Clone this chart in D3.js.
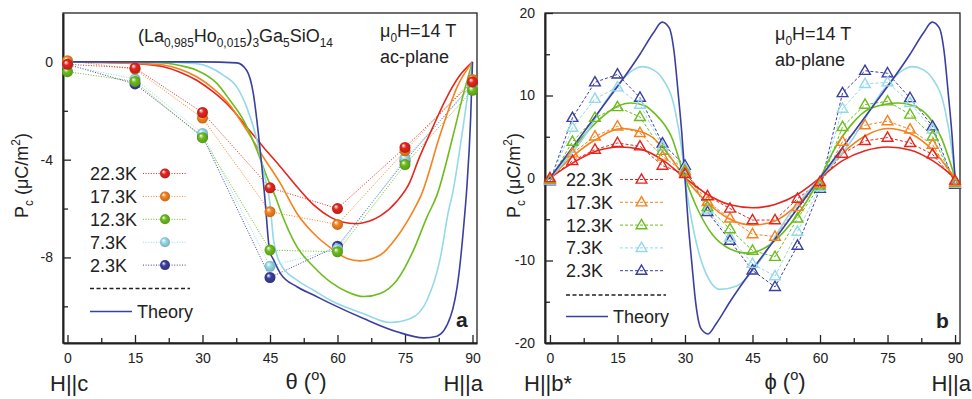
<!DOCTYPE html>
<html>
<head>
<meta charset="utf-8">
<script src="https://cdn.jsdelivr.net/npm/d3@7"></script>
<style>
  body { margin: 0; background: #fff; }
  svg { font-family: "Liberation Sans", Arial, sans-serif; }
</style>
</head>
<body>
<svg id="chart" width="972" height="399"></svg>
<script>
const temps = ["22.3K", "17.3K", "12.3K", "7.3K", "2.3K"];
const palette = ["#e3271f", "#f5821f", "#6cbd1c", "#94d9e8", "#3b3f9f"];

// ac-plane, measured points (theta in degrees, Pc in uC/m^2)
const thetaPts = [0, 15, 30, 45, 60, 75, 90];
const ac22 = [-0.1, -0.25, -2.07, -5.15, -6.0, -3.5, -0.82];
const ac17 = [0.05, -0.3, -2.3, -6.13, -6.65, -3.64, -0.72];
const ac12 = [-0.4, -0.8, -3.1, -7.7, -7.77, -4.2, -1.16];
const ac7 = [-0.15, -0.7, -2.93, -8.36, -7.65, -3.95, -1.0];
const ac2 = [-0.1, -0.9, -3.05, -8.82, -7.54, -4.05, -0.9];

// ac-plane theory curves [theta, Pc]
const acTh22 = [[0,0],[10,-0.03],[15,-0.07],[21.3,-0.2],[25,-0.42],[28.7,-0.75],[32.4,-1.23],[36.1,-1.84],[39.8,-2.66],[43.5,-3.48],[47.3,-4.29],[51,-5.11],[54.7,-5.85],[58.4,-6.35],[61,-6.55],[64.3,-6.62],[67,-6.52],[69.5,-6.3],[73.2,-5.7],[76,-4.95],[78,-4.0],[81,-2.75],[84,-1.55],[87,-0.6],[90,0]];
const acTh17 = [[0,0],[10,-0.03],[15,-0.06],[21.3,-0.13],[25,-0.3],[28.7,-0.61],[32.4,-1.09],[36.1,-1.77],[39.8,-2.79],[43.5,-3.89],[47.3,-4.97],[51,-6.2],[54.7,-7.02],[58.4,-7.6],[62.1,-8.04],[65,-8.14],[69.5,-7.9],[73.2,-7.16],[76.9,-6.07],[78.6,-5.45],[82.9,-2.93],[86.6,-1.02],[90,0]];
const acTh12 = [[0,0],[15,-0.01],[21.3,-0.04],[25,-0.15],[28.7,-0.34],[33.2,-0.88],[36.1,-1.57],[39.1,-2.38],[42.1,-3.61],[44.3,-4.7],[46.5,-5.66],[47.3,-6.07],[51,-7.57],[54.7,-8.38],[58.4,-9.0],[62.1,-9.4],[65.8,-9.6],[69.5,-9.47],[73.2,-8.93],[76.9,-7.7],[79.9,-6.34],[82.1,-5.45],[85.8,-2.93],[88,-1.3],[90,0]];
const acTh7 = [[0,0],[20,0],[28.7,-0.07],[34.6,-0.54],[37.6,-1.02],[39.8,-1.84],[42.1,-3.2],[43.5,-4.43],[45,-5.8],[45.8,-7.3],[47.3,-8.25],[51,-8.93],[54.7,-9.34],[58.4,-9.75],[65.8,-10.3],[71.7,-10.66],[76.2,-10.5],[79.9,-9.75],[82.9,-7.98],[84.7,-6.07],[85.5,-5.45],[87.7,-2.93],[90,0]];
const acTh2 = [[0,0],[30,0],[37.6,-0.04],[39.8,-0.34],[41.3,-1.3],[42.4,-2.9],[43.2,-4.3],[43.9,-5.66],[44.9,-7.7],[45.8,-8.1],[47.3,-8.65],[51,-9.2],[54.7,-9.54],[58.4,-9.88],[65.8,-10.5],[73.2,-11.04],[79.2,-11.29],[82.1,-11.22],[85.1,-10.43],[87,-8.65],[88.1,-6.6],[88.7,-5.25],[89.6,-2.25],[90,0]];

// ab-plane, measured points (phi in degrees)
const phiPts = [0, 5, 10, 15, 20, 25, 30, 35, 40, 45, 50, 55, 60, 65, 70, 75, 80, 85, 90];
const ab22 = [0, 2.07, 3.44, 4.25, 3.84, 1.5, 0.5, -2.2, -3.7, -5.1, -5.1, -2.5, -0.47, 2.95, 4.5, 4.9, 4.25, 2.87, -0.3];
const ab17 = [-0.1, 3.0, 5.05, 6.26, 5.46, 2.6, 0.7, -2.9, -4.9, -6.8, -7.1, -3.5, -0.7, 4.4, 6.4, 6.9, 5.9, 4.05, -0.5];
const ab12 = [-0.2, 4.4, 7.3, 8.6, 7.4, 3.3, 0.9, -3.5, -6.2, -8.8, -9.55, -4.9, -0.9, 6.2, 8.9, 9.3, 7.7, 5.05, -0.6];
const ab7 = [-0.3, 6.1, 9.6, 11.0, 8.9, 3.8, 1.2, -3.8, -7.2, -10.4, -11.9, -6.5, -1.1, 8.4, 11.4, 11.6, 9.1, 5.9, -0.7];
const ab2 = [-0.4, 7.3, 11.6, 12.56, 9.74, 4.2, 1.5, -4.1, -7.6, -11.2, -13.2, -8.2, -1.3, 10.3, 13.0, 12.7, 9.7, 6.27, -0.8];

// ab-plane theory curves [phi, Pc]
const abTh22 = [[0,0],[5,1.8],[10,3.2],[15.5,3.76],[20,3.5],[25,2.2],[30,0],[35,-2.0],[40,-3.25],[45,-3.6],[50,-3.2],[55,-2.0],[60,0],[65,2.1],[70,3.3],[75,3.76],[80,3.4],[85,2.1],[90,0]];
const abTh17 = [[0,0],[5,2.6],[10,4.6],[16,6.0],[22,5.2],[26,3.1],[30,0],[35,-3.0],[40,-5.0],[45,-5.7],[50,-5.2],[55,-3.2],[60,0],[65,3.0],[70,5.1],[75,6.0],[80,5.4],[85,3.4],[90,0]];
const abTh12 = [[0,0],[5,3.5],[10,6.6],[15,8.7],[18,9.1],[21,8.8],[23.3,7.8],[27,5.0],[30,0],[33,-4.0],[36,-6.8],[40,-8.6],[44,-9.1],[48,-8.4],[52,-6.5],[56,-3.7],[60,0],[63,3.3],[67,6.5],[71,8.4],[77.5,9.1],[81,8.7],[84,7.5],[87,4.8],[90,0]];
const abTh7 = [[0,0],[6.7,4.3],[14.1,10.6],[18.5,13.1],[20.5,13.5],[23,13.1],[24.8,12.2],[27.8,8.2],[29.3,3.4],[30,0],[31.9,-6.3],[34.1,-10.8],[37.8,-13.5],[41.5,-13.1],[45.9,-10.6],[53.3,-4.3],[60,0],[66.7,4.3],[74,10.6],[78.5,13.1],[80.5,13.5],[83,13.1],[84.8,12.2],[87.8,8.2],[89.3,3.4],[90,0]];
const abTh2 = [[0,0],[10,7.4],[20,15],[23,17.6],[24.9,18.9],[26.5,18.2],[27.6,15.2],[28.5,10.2],[29.3,5.4],[30,0],[30.7,-5.4],[31.5,-10.2],[32.4,-15.2],[33.5,-18.2],[35.1,-18.9],[37,-17.6],[40,-15],[50,-7.4],[60,0],[70,7.4],[80,15],[83,17.6],[84.9,18.9],[86.5,18.2],[87.6,15.2],[88.5,10.2],[89.3,5.4],[90,0]];

const acMeasured = [ac22, ac17, ac12, ac7, ac2];
const acTheory = [acTh22, acTh17, acTh12, acTh7, acTh2];
const abMeasured = [ab22, ab17, ab12, ab7, ab2];
const abTheory = [abTh22, abTh17, abTh12, abTh7, abTh2];

const svg = d3.select("#chart");
const ink = "#222";

// sphere gradients for the ac-plane markers
const defs = svg.append("defs");
palette.forEach((c, i) => {
  const gr = defs.append("radialGradient").attr("id", "ball" + i)
    .attr("cx", 0.5).attr("cy", 0.5).attr("r", 0.55).attr("fx", 0.33).attr("fy", 0.3);
  gr.append("stop").attr("offset", "0%").attr("stop-color", "#fff");
  gr.append("stop").attr("offset", "40%").attr("stop-color", c);
  gr.append("stop").attr("offset", "100%").attr("stop-color", d3.color(c).darker(0.7));
});

function rich(sel, parts, size) {
  let shift = 0;
  parts.forEach(([t, k]) => {
    const target = k === "sub" ? size * 0.3 : k === "sup" ? -size * 0.42 : 0;
    sel.append("tspan")
      .attr("dy", target - shift)
      .attr("font-size", k ? size * 0.66 : size)
      .text(t);
    shift = target;
  });
}

function drawFrame(g, x, y, xMinor, yMajor, yMinor) {
  const [xa, xb] = x.range();
  const [yb, ya] = y.range();
  const fmt = d => String(d);

  const bottom = g.append("g").attr("transform", `translate(0,${yb})`)
    .call(d3.axisBottom(x).tickValues([0, 15, 30, 45, 60, 75, 90]).tickSize(-8).tickSizeOuter(0).tickPadding(10).tickFormat(fmt));
  g.append("g").attr("transform", `translate(0,${yb})`)
    .call(d3.axisBottom(x).tickValues(xMinor).tickSize(-5).tickSizeOuter(0).tickFormat(""))
    .select(".domain").remove();
  const left = g.append("g").attr("transform", `translate(${xa},0)`)
    .call(d3.axisLeft(y).tickValues(yMajor).tickSize(-8).tickSizeOuter(0).tickPadding(10).tickFormat(fmt));
  g.append("g").attr("transform", `translate(${xa},0)`)
    .call(d3.axisLeft(y).tickValues(yMinor).tickSize(-5).tickSizeOuter(0).tickFormat(""))
    .select(".domain").remove();

  g.selectAll(".tick line").attr("stroke", ink).attr("stroke-width", 1.3);
  g.selectAll(".domain").attr("stroke", ink).attr("stroke-width", 2);
  g.selectAll(".tick text").attr("fill", ink).attr("font-size", 14);
  [bottom, left].forEach(a => a.attr("font-family", null));

  g.append("rect").attr("x", xa).attr("y", ya).attr("width", xb - xa).attr("height", yb - ya)
    .attr("fill", "none").attr("stroke", ink).attr("stroke-width", 1.3);
}

function drawSeries(g, x, y, angles, measured, theory, marker, dash) {
  const dataLine = d3.line().x((d, j) => x(angles[j])).y(d => y(d));
  const theoryLine = d3.line().x(d => x(d[0])).y(d => y(d[1])).curve(d3.curveMonotoneX);
  for (let i = temps.length - 1; i >= 0; i--) {
    g.append("path").attr("d", dataLine(measured[i]))
      .attr("fill", "none").attr("stroke", palette[i]).attr("stroke-width", 1).attr("stroke-dasharray", dash);
  }
  for (let i = 0; i < temps.length; i++) {
    g.append("path").attr("d", theoryLine(theory[i]))
      .attr("fill", "none").attr("stroke", palette[i]).attr("stroke-width", 1.6);
  }
  for (let i = temps.length - 1; i >= 0; i--) {
    measured[i].forEach((v, j) => marker(g, x(angles[j]), y(v), i));
  }
}

const ball = (g, cx, cy, i, r = 5.5) => g.append("circle").attr("cx", cx).attr("cy", cy).attr("r", r).attr("fill", `url(#ball${i})`);
const tri = (g, cx, cy, i) => g.append("path").attr("d", d3.symbol().type(d3.symbolTriangle).size(50)())
  .attr("transform", `translate(${cx},${cy + 0.5})`).attr("fill", "none").attr("stroke", palette[i]).attr("stroke-width", 1.4);

function drawLegend(g, x0, baseline0, step, lineX, marker, dash, sepY, thY, sepEnd, thEnd) {
  temps.forEach((t, i) => {
    const by = baseline0 + i * step;
    g.append("text").attr("x", x0).attr("y", by).attr("font-size", 18).attr("fill", ink).text(t);
    g.append("line").attr("x1", lineX[0]).attr("x2", lineX[1]).attr("y1", by - 6.5).attr("y2", by - 6.5)
      .attr("stroke", palette[i]).attr("stroke-width", 1).attr("stroke-dasharray", dash);
    marker(g, (lineX[0] + lineX[1]) / 2, by - 6.5, i);
  });
  g.append("line").attr("x1", x0).attr("x2", sepEnd).attr("y1", sepY).attr("y2", sepY)
    .attr("stroke", ink).attr("stroke-width", 1.3).attr("stroke-dasharray", "4,2.5");
  g.append("line").attr("x1", x0).attr("x2", thEnd).attr("y1", thY).attr("y2", thY)
    .attr("stroke", palette[4]).attr("stroke-width", 1.6);
  g.append("text").attr("x", thEnd + 5).attr("y", thY + 6.5).attr("font-size", 18).attr("fill", ink).text("Theory");
}

// ---------- panel a: ac-plane ----------
const xA = d3.scaleLinear().domain([-1, 91]).range([63, 477]);
const yA = d3.scaleLinear().domain([-11.5, 2]).range([343, 13]);
const gA = svg.append("g");
drawFrame(gA, xA, yA, [7.5, 22.5, 37.5, 52.5, 67.5, 82.5], [0, -4, -8], [-2, -6, -10]);
drawSeries(gA, xA, yA, thetaPts, acMeasured, acTheory, (g, cx, cy, i) => ball(g, cx, cy, i), "1,1.6");
drawLegend(gA, 90, 180, 22.9, [143, 187], (g, cx, cy, i) => ball(g, cx, cy, i, 5), "1,1.6", 288.5, 311.5, 190, 132);

rich(gA.append("text").attr("x", 138).attr("y", 42).attr("fill", ink),
  [["(La"], ["0,985", "sub"], ["Ho"], ["0,015", "sub"], [")"], ["3", "sub"], ["Ga"], ["5", "sub"], ["SiO"], ["14", "sub"]], 18);
rich(gA.append("text").attr("x", 380).attr("y", 37).attr("fill", ink), [["μ"], ["0", "sub"], ["H=14 T"]], 18);
gA.append("text").attr("x", 380).attr("y", 63).attr("font-size", 18).attr("fill", ink).text("ac-plane");
gA.append("text").attr("x", 456).attr("y", 327).attr("font-size", 21).attr("font-weight", "bold").attr("fill", ink).text("a");

rich(gA.append("text").attr("transform", "translate(28,175.5) rotate(-90)").attr("text-anchor", "middle").attr("fill", ink),
  [["P"], ["c", "sub"], [" (μC/m"], ["2", "sup"], [")"]], 18);
rich(gA.append("text").attr("x", 306).attr("y", 389).attr("text-anchor", "middle").attr("fill", ink),
  [["θ ("], ["o", "sup"], [")"]], 22);
gA.append("text").attr("x", 50).attr("y", 391).attr("font-size", 22).attr("fill", ink).text("H||c");
gA.append("text").attr("x", 483).attr("y", 391).attr("text-anchor", "end").attr("font-size", 22).attr("fill", ink).text("H||a");

// ---------- panel b: ab-plane ----------
const xB = d3.scaleLinear().domain([-1.1, 91.1]).range([545, 960]);
const yB = d3.scaleLinear().domain([-20, 20]).range([343, 13]);
const gB = svg.append("g");
drawFrame(gB, xB, yB, [7.5, 22.5, 37.5, 52.5, 67.5, 82.5], [20, 10, 0, -10, -20], [15, 5, -5, -15]);
drawSeries(gB, xB, yB, phiPts, abMeasured, abTheory, tri, "3,2");
drawLegend(gB, 566, 186, 22.8, [620, 663], tri, "3,2", 295, 316.5, 666, 608);

rich(gB.append("text").attr("x", 775).attr("y", 40).attr("fill", ink), [["μ"], ["0", "sub"], ["H=14 T"]], 18);
gB.append("text").attr("x", 775).attr("y", 66).attr("font-size", 18).attr("fill", ink).text("ab-plane");
gB.append("text").attr("x", 936).attr("y", 328).attr("font-size", 21).attr("font-weight", "bold").attr("fill", ink).text("b");

rich(gB.append("text").attr("transform", "translate(520,175.5) rotate(-90)").attr("text-anchor", "middle").attr("fill", ink),
  [["P"], ["c", "sub"], [" (μC/m"], ["2", "sup"], [")"]], 18);
rich(gB.append("text").attr("x", 785).attr("y", 389).attr("text-anchor", "middle").attr("fill", ink),
  [["ϕ ("], ["o", "sup"], [")"]], 22);
gB.append("text").attr("x", 524).attr("y", 391).attr("font-size", 22).attr("fill", ink).text("H||b*");
gB.append("text").attr("x", 971).attr("y", 391).attr("text-anchor", "end").attr("font-size", 22).attr("fill", ink).text("H||a");
</script>
</body>
</html>
